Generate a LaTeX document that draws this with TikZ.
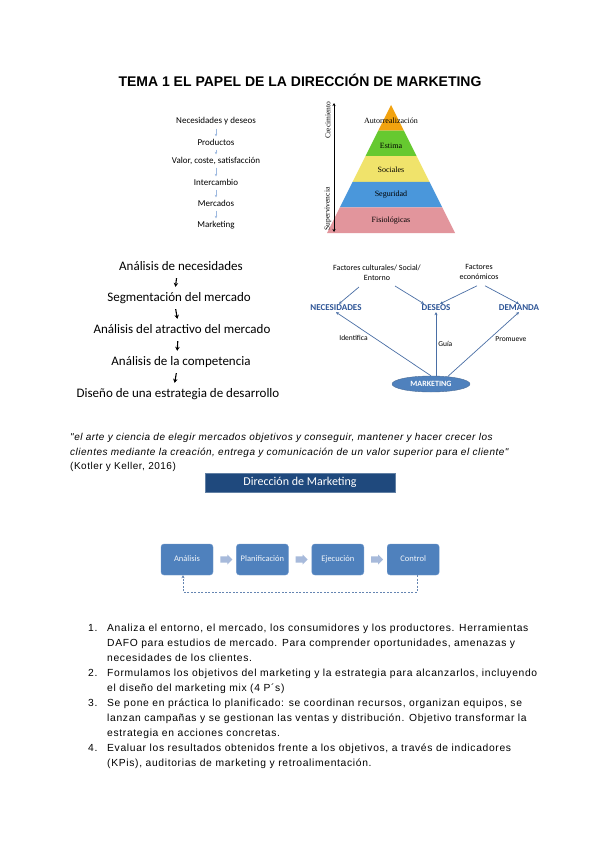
\documentclass[tikz,border=0pt]{standalone}
\usepackage{fontspec}
\setmainfont{Liberation Sans}
\newfontfamily\calibri{Carlito}
\newfontfamily\timesrm{Liberation Serif}
\newfontfamily\quotefont[LetterSpace=5]{Liberation Sans}
\newfontfamily\listfont[LetterSpace=6.5]{Liberation Sans}
\usetikzlibrary{positioning,calc,arrows.meta,shapes.geometric,shapes.arrows}

\definecolor{lineblue}{HTML}{4A6FA5}
\definecolor{conceptblue}{HTML}{2E5597}
\definecolor{procblue}{HTML}{4F81BD}
\definecolor{procedge}{HTML}{7098CC}
\definecolor{arrowlight}{HTML}{A7BADB}
\definecolor{bannerblue}{HTML}{1F497D}
\definecolor{chainblue}{HTML}{9DB9E0}
\definecolor{pyrorange}{HTML}{F2A30F}
\definecolor{pyrgreen}{HTML}{66C930}
\definecolor{pyryellow}{HTML}{F0E36B}
\definecolor{pyrblue}{HTML}{4A97DB}
\definecolor{pyrpink}{HTML}{E2959C}

\begin{document}
\begin{tikzpicture}[
        x=1pt, y=-1pt,
        title/.style={font=\bfseries\fontsize{14}{16}\selectfont, inner sep=0pt},
        small/.style={font=\calibri\fontsize{9}{10}\selectfont, inner sep=1pt,
            text height=6pt, text depth=2pt},
        smallarr/.style={-{Stealth[length=2.5pt, width=2.5pt]}, chainblue, semithick,
            shorten <=1.5pt, shorten >=1.5pt},
        level/.style={font=\timesrm\fontsize{8}{9}\selectfont, inner sep=0pt},
        side/.style={font=\timesrm\fontsize{7.5}{9}\selectfont, inner sep=0pt, rotate=90},
        stage/.style={font=\calibri\fontsize{13}{15}\selectfont, inner sep=1pt,
            text height=9pt, text depth=3pt},
        darr/.style={-{Stealth[length=4pt, width=4.5pt]}, line width=1.1pt,
            shorten <=4pt, shorten >=4pt},
        fac/.style={font=\calibri\fontsize{8}{10}\selectfont, align=center, inner sep=1pt},
        concept/.style={font=\calibri\bfseries\fontsize{9}{10}\selectfont, text=conceptblue,
            inner sep=1pt},
        rel/.style={-{Stealth[length=3pt, width=3pt]}, lineblue, line width=0.7pt},
        rellab/.style={font=\calibri\fontsize{7.5}{9}\selectfont, inner sep=0pt, text=black},
        mktell/.style={ellipse, fill=procblue, draw=bannerblue!80, minimum width=78pt,
            minimum height=16pt, inner sep=0pt, text=white,
            font=\calibri\bfseries\fontsize{8}{10}\selectfont},
        quote/.style={font=\quotefont\fontsize{10}{14.5}\selectfont, align=left, inner sep=0pt,
            anchor=north west},
        banner/.style={fill=bannerblue, draw=bannerblue!70!white, minimum width=190pt,
            minimum height=19pt, inner sep=0pt, text=white,
            font=\calibri\fontsize{12}{14}\selectfont},
        proc/.style={fill=procblue, draw=procedge, rounded corners=3pt, minimum width=52pt,
            minimum height=31pt, inner sep=0pt, text=white!92!procblue,
            text height=6pt, text depth=2pt, font=\calibri\fontsize{8.5}{10}\selectfont},
        blockarr/.style={single arrow, fill=arrowlight, draw=none, minimum height=12pt,
            inner sep=3pt, single arrow head extend=1.8pt},
        feedback/.style={-{Stealth[length=3pt, width=3pt]}, lineblue!85, line width=0.6pt,
            dash pattern=on 2pt off 1.5pt},
        item/.style={font=\listfont\fontsize{10.3}{15}\selectfont, align=left, inner sep=0pt,
            anchor=north west},
    ]
    \useasboundingbox (0,0) rectangle (600,848);
    \fill[white] (0,0) rectangle (600,848);

    % Title
    \node[title] (title) at (300,80) {TEMA 1 EL PAPEL DE LA DIRECCIÓN DE MARKETING};

    % Small chain, top left
    \node[small] (need) at (216,122) {Necesidades y deseos};
    \node[small] (prod) at (216,143) {Productos};
    \node[small] (value) at (216,161) {Valor, coste, satisfacción};
    \node[small] (exch) at (216,183) {Intercambio};
    \node[small] (mark) at (216,204) {Mercados};
    \node[small] (mktg) at (216,225) {Marketing};
    \foreach \a/\b in {need/prod, prod/value, value/exch, exch/mark, mark/mktg}
        \draw[smallarr] (\a) -- (\b);

    % Pyramid
    \foreach \i/\col in {0/pyrorange, 1/pyrgreen, 2/pyryellow, 3/pyrblue, 4/pyrpink}
        \fill[\col] ({391-12.8*\i},{105+25.6*\i}) -- ({391+12.8*\i},{105+25.6*\i})
            -- ({391+12.8*(\i+1)},{105+25.6*(\i+1)}) -- ({391-12.8*(\i+1)},{105+25.6*(\i+1)}) -- cycle;
    \node[level] (self) at (391,121) {Autorrealización};
    \node[level] (esteem) at (391,146) {Estima};
    \node[level] (social) at (391,170) {Sociales};
    \node[level] (safety) at (391,195) {Seguridad};
    \node[level] (physio) at (391,221) {Fisiológicas};
    \coordinate (growtop) at (334,103);
    \coordinate (growbot) at (334,232);
    \draw[{Stealth[length=3pt, width=3pt]}-{Stealth[length=3pt, width=3pt]}, semithick] (growtop) -- (growbot);
    \node[side] (grow) at (328,120) {Crecimiento};
    \node[side] (surv) at (328,209) {Supervivencia};

    % Stages, left
    \node[stage] (s1) at (181,267) {Análisis de necesidades};
    \node[stage] (s2) at (179,298) {Segmentación del mercado};
    \node[stage] (s3) at (182,330) {Análisis del atractivo del mercado};
    \node[stage] (s4) at (181,362) {Análisis de la competencia};
    \node[stage] (s5) at (178,394) {Diseño de una estrategia de desarrollo};
    \foreach \a/\b in {s1/s2, s2/s3, s3/s4, s4/s5}
        \draw[darr] ([xshift=-4pt]\a.south) -- ([xshift=-4pt]\b.north);

    % Needs, wants, demand
    \node[fac] (cult) at (377,273) {Factores culturales/ Social/\\Entorno};
    \node[fac] (econ) at (479,272) {Factores\\económicos};
    \node[concept] (needs) at (336,308) {NECESIDADES};
    \node[concept] (wants) at (436,308) {DESEOS};
    \node[concept] (demand) at (519,308) {DEMANDA};
    \node[mktell] (mkt) at (431,384) {MARKETING};

    \draw[rel] ($(cult.south)+(-18,5)$) -- ($(needs.north)+(3,0)$);
    \draw[rel] ($(cult.south)+(18,4)$) -- ($(wants.north)+(-12,0)$);
    \draw[rel] ($(econ.south)+(-2,5)$) -- ($(wants.north)+(4,0)$);
    \draw[rel] ($(econ.south)+(6,5)$) -- (demand.north);
    \draw[rel] (mkt.north) -- node[rellab, pos=0.6, left=6pt] {Identifica} (needs.south);
    \draw[rel] (mkt.north -| wants.south) -- node[rellab, pos=0.5, right=2pt] {Guía} (wants.south);
    \draw[rel] (mkt.24) -- node[rellab, pos=0.58, right=6pt] {Promueve} (demand.south);

    % Definition
    \node[quote] (quote) at (70,430.5) {\strut\itshape "el arte y ciencia de elegir mercados objetivos y conseguir, mantener y hacer crecer los\\
        \itshape clientes mediante la creación, entrega y comunicación de un valor superior para el cliente"\\
        (Kotler y Keller, 2016)};

    % Process
    \node[banner] (dirmk) at (300,482.5) {Dirección de Marketing};
    \node[proc] (ana) at (187,559.5) {Análisis};
    \node[proc, right=23pt of ana] (plan) {Planificación};
    \node[proc, right=23pt of plan] (exe) {Ejecución};
    \node[proc, right=23pt of exe] (ctrl) {Control};
    \foreach \a/\b in {ana/plan, plan/exe, exe/ctrl}
        \path (\a) -- node[blockarr] {} (\b);
    \draw[feedback] ([xshift=4pt]ctrl.south) -- ++(0,17) -| ([xshift=-4pt]ana.south);

    % List
    \node[item] (num1) at (88,621.1) {\strut 1.};
    \node[item] (it1) at (107,621.1) {\strut Analiza el entorno, el mercado, los consumidores y los productores. Herramientas\\
        DAFO para estudios de mercado. Para comprender oportunidades, amenazas y\\
        necesidades de los clientes.};
    \node[item] (num2) at (88,666.1) {\strut 2.};
    \node[item] (it2) at (107,666.1) {\strut Formulamos los objetivos del marketing y la estrategia para alcanzarlos, incluyendo\\
        el diseño del marketing mix (4 P´s)};
    \node[item] (num3) at (88,696.1) {\strut 3.};
    \node[item] (it3) at (107,696.1) {\strut Se pone en práctica lo planificado: se coordinan recursos, organizan equipos, se\\
        lanzan campañas y se gestionan las ventas y distribución. Objetivo transformar la\\
        estrategia en acciones concretas.};
    \node[item] (num4) at (88,741.1) {\strut 4.};
    \node[item] (it4) at (107,741.1) {\strut Evaluar los resultados obtenidos frente a los objetivos, a través de indicadores\\
        (KPis), auditorias de marketing y retroalimentación.};
\end{tikzpicture}
\end{document}
